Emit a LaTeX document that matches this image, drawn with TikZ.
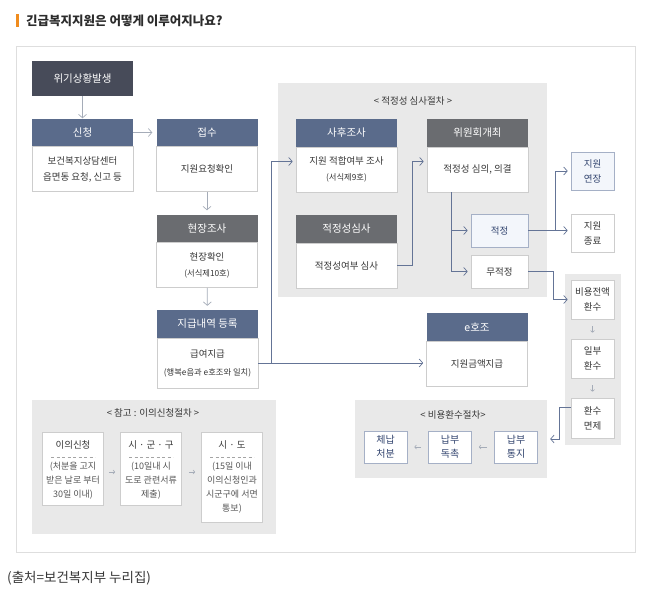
\documentclass[tikz,border=0pt]{standalone}
\usepackage{fontspec}
\setmainfont{Noto Sans CJK KR}
\usetikzlibrary{arrows.meta, positioning}
\definecolor{hdrblue}{RGB}{90,107,139}
\definecolor{hdrgray}{RGB}{106,108,112}
\definecolor{hdrdark}{RGB}{71,75,89}
\definecolor{panelgray}{RGB}{233,233,233}
\definecolor{boxline}{RGB}{205,205,205}
\definecolor{framegray}{RGB}{222,222,222}
\definecolor{bodytext}{RGB}{55,55,55}
\definecolor{linkblue}{RGB}{100,116,150}
\definecolor{arrowgray}{RGB}{165,172,184}
\definecolor{paleblue}{RGB}{243,246,251}
\definecolor{paleline}{RGB}{165,176,198}
\definecolor{navytext}{RGB}{52,70,112}
\definecolor{titleorange}{RGB}{240,140,30}
\newcommand{\smalltxt}[1]{{\fontsize{8.3}{16}\selectfont #1}}

\begin{document}
\begin{tikzpicture}[x=1pt, y=-1pt,
    hdr/.style={minimum width=101pt, minimum height=28pt, inner sep=0pt,
        text=white, font=\fontsize{10.5}{12}\selectfont},
    body/.style={draw=boxline, line width=0.6pt, fill=white, minimum width=101pt,
        minimum height=45pt, inner sep=0pt, align=center, text=bodytext,
        font=\fontsize{9.5}{16}\selectfont},
    sbox/.style={draw=boxline, line width=0.6pt, fill=white, minimum width=43pt,
        minimum height=38pt, inner sep=0pt, align=center, text=bodytext,
        font=\fontsize{9.5}{15}\selectfont},
    pbox/.style={sbox, fill=paleblue, draw=paleline, text=navytext},
    nbox/.style={sbox, draw=paleline, minimum height=32pt, text=navytext,
        font=\fontsize{10}{14}\selectfont},
    abox/.style={draw=boxline, line width=0.6pt, fill=white, minimum width=61pt,
        inner sep=0pt},
    ahead/.style={text=bodytext, font=\fontsize{9.5}{11}\selectfont},
    atext/.style={align=center, inner sep=0pt, text=bodytext!85,
        font=\fontsize{9}{14}\selectfont},
    panel/.style={fill=panelgray, inner sep=0pt},
    ptitle/.style={text=bodytext, font=\fontsize{9.5}{11}\selectfont},
    flow/.style={draw=arrowgray, line width=0.7pt, -{Straight Barb[length=3.5pt,width=8pt]}},
    link/.style={draw=linkblue, line width=0.7pt, -{Straight Barb[length=3.5pt,width=8pt]}},
    tinyarrow/.style={draw=arrowgray, line width=0.6pt,
        -{Straight Barb[length=1.8pt,width=4pt]}}
]
    \useasboundingbox (0,0) rectangle (654,598);

    % title and frame
    \fill[titleorange] (16,14) rectangle (19,27);
    \node[anchor=west, inner sep=0pt, text=bodytext!80!black,
        font=\fontsize{12.5}{14}\selectfont\bfseries] (title) at (26,20.5)
        {긴급복지지원은 어떻게 이루어지나요?};
    \node[draw=framegray, line width=0.8pt, minimum width=619pt, minimum height=506pt,
        inner sep=0pt] (frame) at (325.5,299) {};
    \node[anchor=west, inner sep=0pt, text=bodytext,
        font=\fontsize{13.5}{15}\selectfont] (source) at (7,578) {(출처=보건복지부 누리집)};

    % panels
    \node[panel, minimum width=269pt, minimum height=214pt] (simsapanel) at (412.5,190) {};
    \node[ptitle] (simsatitle) at (413,101) {< 적정성 심사절차 >};
    \node[panel, minimum width=56pt, minimum height=171pt] (hwansupanel) at (593,359.5) {};
    \node[panel, minimum width=192pt, minimum height=78pt] (bihwanpanel) at (451,439) {};
    \node[ptitle] (bihwantitle) at (453,415) {< 비용환수절차>};
    \node[panel, minimum width=244pt, minimum height=134pt] (appealpanel) at (154,467) {};
    \node[ptitle] (appealtitle) at (153,413) {< 참고 : 이의신청절차 >};

    % main flow
    \node[hdr, fill=hdrdark, minimum height=35pt] (wigi) at (82.5,78.5) {위기상황발생};
    \node[hdr, fill=hdrblue] (sincheongh) at (82.5,132.5) {신청};
    \node[body] (sincheongb) at (82.5,169) {보건복지상담센터\\읍면동 요청, 신고 등};
    \node[hdr, fill=hdrblue] (jeopsuh) at (207,132.5) {접수};
    \node[body] (jeopsub) at (207,169) {지원요청확인};
    \node[hdr, fill=hdrgray] (hyeonjangh) at (207,228.5) {현장조사};
    \node[body] (hyeonjangb) at (207,265) {현장확인\\\smalltxt{(서식제10호)}};
    \node[hdr, fill=hdrblue] (jigeuph) at (207.5,324) {지급내역 등록};
    \node[body, minimum height=50pt] (jigeupb) at (207.5,363) {급여지급\\[2pt]\smalltxt{(행복e음과 e호조와 일치)}};

    \node[hdr, fill=hdrblue] (sahuh) at (346.5,133) {사후조사};
    \node[body] (sahub) at (346.5,169.5) {지원 적합여부 조사\\\smalltxt{(서식제9호)}};
    \node[hdr, fill=hdrgray] (wiwonh) at (477.5,133) {위원회개최};
    \node[body] (wiwonb) at (477.5,169.5) {적정성 심의, 의결};
    \node[hdr, fill=hdrgray] (simsah) at (346.5,229) {적정성심사};
    \node[body] (simsab) at (346.5,265.5) {적정성여부 심사};
    \node[hdr, fill=hdrblue] (ehojoh) at (477,327) {e호조};
    \node[body] (ehojob) at (477,363.5) {지원금액지급};

    \node[pbox, minimum width=57pt, minimum height=33pt] (jeokjeong) at (499.5,230.5) {적정};
    \node[sbox, minimum width=57pt, minimum height=33pt] (mujeok) at (499.5,271.5) {무적정};
    \node[pbox] (yeonjang) at (592.5,171) {지원\\연장};
    \node[sbox] (jongryo) at (592.5,233) {지원\\종료};
    \node[sbox, minimum height=39pt] (jeonaek) at (592.5,299.5) {비용전액\\환수};
    \node[sbox, minimum height=39pt] (ilbu) at (592.5,358.5) {일부\\환수};
    \node[sbox, minimum height=40pt] (myeonje) at (592.5,418) {환수\\면제};

    \node[nbox] (chenap) at (385.5,447) {체납\\처분};
    \node[nbox] (dokchok) at (450,447) {납부\\독촉};
    \node[nbox] (tongji) at (516,447) {납부\\통지};

    % appeal boxes
    \node[abox, minimum height=73pt] (ieui) at (73,468.5) {};
    \node[abox, minimum height=73pt] (sigungu) at (151,468.5) {};
    \node[abox, minimum height=90pt] (sido) at (232,477) {};
    \node[ahead] (ieuih) at (73,445) {이의신청};
    \node[ahead] (sigunguh) at (151,445) {시 · 군 · 구};
    \node[ahead] (sidoh) at (232,445) {시 · 도};
    \draw[boxline!80!black, dash pattern=on 3pt off 2.5pt, line width=0.5pt] (51,457) -- (95,457);
    \draw[boxline!80!black, dash pattern=on 3pt off 2.5pt, line width=0.5pt] (129,457) -- (173,457);
    \draw[boxline!80!black, dash pattern=on 3pt off 2.5pt, line width=0.5pt] (210,457) -- (254,457);
    \node[atext, anchor=north] (ieuit) at (73,462) {(처분을 고지\\받은 날로 부터\\30일 이내)};
    \node[atext, anchor=north] (sigungut) at (151,462) {(10일내 시\\도로 관련서류\\제출)};
    \node[atext, anchor=north] (sidot) at (232,462) {(15일 이내\\이의신청인과\\시군구에 서면\\통보)};

    % connectors
    \draw[flow] (wigi) -- (sincheongh);
    \draw[flow, shorten >=4pt] (sincheongh) -- (jeopsuh);
    \draw[flow, shorten >=4pt] (jeopsub) -- (hyeonjangh);
    \draw[flow, shorten >=4pt] (hyeonjangb) -- (jigeuph);

    \coordinate (jbranch) at (271,363);
    \draw[linkblue, line width=0.7pt] (jigeupb.east |- jbranch) -- (jbranch);
    \draw[link, shorten >=3pt] (jbranch) |- ([yshift=8pt]sahub.west);
    \draw[link, shorten >=3pt] (jbranch) -- (jbranch -| ehojob.west);
    \draw[link, shorten >=3pt] (simsab.east) -- ++(15,0) |- ([yshift=8pt]wiwonb.west);
    \coordinate (wdown) at (451,192);
    \draw[link, shorten >=3pt] (wdown) |- (jeokjeong.west);
    \draw[link, shorten >=3pt] (wdown) |- (mujeok.west);
    \draw[link, shorten >=3pt] (jeokjeong.east) -- (jeokjeong.east -| jongryo.west);
    \coordinate (jbr2) at (555,230.5);
    \draw[link, shorten >=3pt] (jbr2) |- (yeonjang.west);
    \draw[link, shorten >=3pt] (mujeok.east) -- ++(25,0) |- (jeonaek.west);
    \draw[link, shorten >=3pt] ([yshift=11pt]myeonje.west) -- ++(-11,0) |- (bihwanpanel.east);

    \draw[tinyarrow, shorten <=7pt, shorten >=6pt] (jeonaek) -- (ilbu);
    \draw[tinyarrow, shorten <=7pt, shorten >=6pt] (ilbu) -- (myeonje);
    \draw[tinyarrow, shorten <=7pt, shorten >=7pt] (tongji) -- (dokchok);
    \draw[tinyarrow, shorten <=7pt, shorten >=7pt] (dokchok) -- (chenap);
    \draw[tinyarrow, shorten <=5pt, shorten >=5pt] (ieui.east |- 0,472) -- (sigungu.west |- 0,472);
    \draw[tinyarrow, shorten <=7pt, shorten >=6pt] (sigungu.east |- 0,472) -- (sido.west |- 0,472);
\end{tikzpicture}
\end{document}
